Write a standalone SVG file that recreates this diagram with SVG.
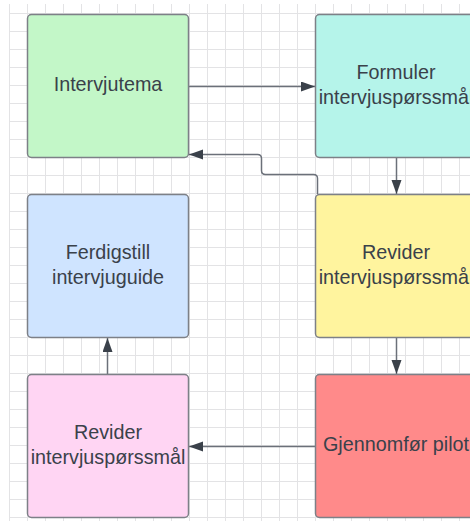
<svg xmlns="http://www.w3.org/2000/svg" width="470" height="521" viewBox="0 0 470 521">
<defs>
<pattern id="grid" x="9" y="13" width="18" height="18" patternUnits="userSpaceOnUse">
<path d="M0 0.5 H18 M0.5 0 V18" fill="none" stroke="#e3e3e5" stroke-width="1"/>
</pattern>
<marker id="arr" markerUnits="userSpaceOnUse" markerWidth="15" markerHeight="11" refX="14" refY="5" orient="auto">
<path d="M0,0 L14,5 L0,10 z" fill="#3a414a"/>
</marker>
</defs>
<style>
.box{stroke:#7d8087;stroke-width:1.5}
.lbl{font-family:"Liberation Sans",Arial,sans-serif;font-size:19.75px;fill:#3a414a;text-anchor:middle}
.con{fill:none;stroke:#6b7079;stroke-width:1.5}
</style>
<rect width="470" height="521" fill="#ffffff"/>
<rect x="9" y="4" width="461" height="517" fill="url(#grid)"/>
<g id="connectors">
<path class="con" d="M189 86.5 H315" marker-end="url(#arr)"/>
<path class="con" d="M396.5 158 V194" marker-end="url(#arr)"/>
<path class="con" d="M317.5 194 V178.5 Q317.5 174.5 313.5 174.5 H265.5 Q261.5 174.5 261.5 170.5 V158.5 Q261.5 154.5 257.5 154.5 H189" marker-end="url(#arr)"/>
<path class="con" d="M396.5 338 V374" marker-end="url(#arr)"/>
<path class="con" d="M315 446.5 H189" marker-end="url(#arr)"/>
<path class="con" d="M107.5 374 V338" marker-end="url(#arr)"/>
</g>
<g id="intervjutema">
<rect class="box" x="27.5" y="14.5" width="161" height="143" rx="4" fill="#c3f7c8"/>
<text class="lbl" x="108" y="91">Intervjutema</text>
</g>
<g id="formuler">
<rect class="box" x="315.5" y="14.5" width="161" height="143" rx="4" fill="#b5f4ea"/>
<text class="lbl" x="396" y="78.5">Formuler</text>
<text class="lbl" x="396" y="103.5">intervjuspørssmål</text>
</g>
<g id="ferdigstill">
<rect class="box" x="27.5" y="194.5" width="161" height="143" rx="4" fill="#cfe4ff"/>
<text class="lbl" x="108" y="258.5">Ferdigstill</text>
<text class="lbl" x="108" y="283.5">intervjuguide</text>
</g>
<g id="revider1">
<rect class="box" x="315.5" y="194.5" width="161" height="143" rx="4" fill="#fff49e"/>
<text class="lbl" x="396" y="258.5">Revider</text>
<text class="lbl" x="396" y="283.5">intervjuspørssmål</text>
</g>
<g id="revider2">
<rect class="box" x="27.5" y="374.5" width="161" height="143" rx="4" fill="#ffd5f3"/>
<text class="lbl" x="108" y="438.5">Revider</text>
<text class="lbl" x="108" y="463.5">intervjuspørssmål</text>
</g>
<g id="pilot">
<rect class="box" x="315.5" y="374.5" width="161" height="143" rx="4" fill="#ff8a8a"/>
<text class="lbl" x="396" y="451">Gjennomfør pilot</text>
</g>
</svg>
